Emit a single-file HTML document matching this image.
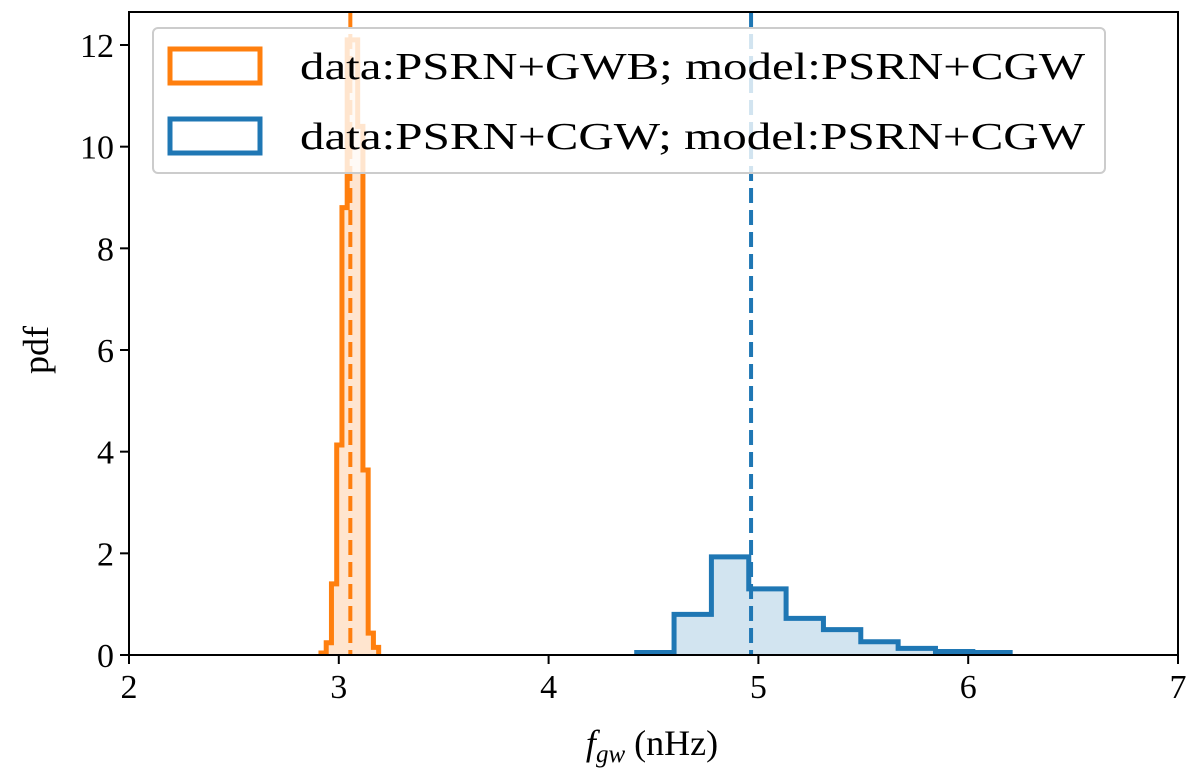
<!DOCTYPE html>
<html><head><meta charset="utf-8"><style>
body{margin:0;background:#fff}
svg{display:block;font-family:"Liberation Serif",serif}
</style></head><body>
<svg id="chart" width="1200" height="778" viewBox="0 0 1200 778" xmlns="http://www.w3.org/2000/svg">
<g id="plot"></g>
</svg>
<script>
const xTicks=[2,3,4,5,6,7];
const yTicks=[0,2,4,6,8,10,12];
const orangeStart=2.915, orangeWidth=0.0250;
const orangeHeights=[0.04,0.24,1.4,4.13,8.8,12.1,12.1,10.4,3.64,0.43,0.15];
const blueStart=4.42, blueWidth=0.178;
const blueHeights=[0.05,0.8,1.93,1.3,0.72,0.5,0.26,0.13,0.07,0.05];
const orangeMedian=3.055, blueMedian=4.965;
const legendLabels=["data:PSRN+GWB; model:PSRN+CGW","data:PSRN+CGW; model:PSRN+CGW"];

const L=129,R=1178,T=12,B=655;
const X=v=>L+(v-2)/(7-2)*(R-L);
const Y=v=>B-(v/12)*(B-45);
const NS="http://www.w3.org/2000/svg";
const g=document.getElementById('plot');
function mk(tag,attrs,parent){const e=document.createElementNS(NS,tag);for(const k in attrs)e.setAttribute(k,attrs[k]);(parent||g).appendChild(e);return e;}

function hist(start,w,h,color,fill,name){
  let d=`M${X(start)},${Y(0)}`;
  h.forEach((v,i)=>{d+=` L${X(start+i*w)},${Y(v)} L${X(start+(i+1)*w)},${Y(v)}`;});
  d+=` L${X(start+h.length*w)},${Y(0)}`;
  const f=mk('path',{d:d+' Z',fill:fill,stroke:'none'});
  
  
  const s=mk('path',{d:d,fill:'none',stroke:color,'stroke-width':5,'stroke-linejoin':'miter'});
  
  
}
hist(orangeStart,orangeWidth,orangeHeights,'#ff7f0e','rgba(255,127,14,0.2)','orange-histogram');
hist(blueStart,blueWidth,blueHeights,'#1f77b4','rgba(31,119,180,0.2)','blue-histogram');

[[orangeMedian,'#ff7f0e','orange-median-line'],[blueMedian,'#1f77b4','blue-median-line']].forEach(([v,c,n])=>{
  const l=mk('line',{x1:X(v),x2:X(v),y1:T,y2:B,stroke:c,'stroke-width':4,'stroke-dasharray':'15,7'});
  
  
});

// legend
const lg=mk('g',{});


mk('rect',{x:153,y:28,width:952,height:145,rx:5,fill:'rgba(255,255,255,0.8)',stroke:'#ccc','stroke-width':2},lg);
const lc=['#ff7f0e','#1f77b4'],lf=['rgba(255,255,255,0.9)','rgba(255,255,255,0.9)'];
legendLabels.forEach((t,i)=>{
  const cy=66+i*70;
  const p=mk('rect',{x:170,y:cy-17,width:90,height:34,fill:lf[i],stroke:lc[i],'stroke-width':5},lg);
  
  
  const tx=mk('text',{x:300,y:cy+13,'font-size':38,fill:'#000',textLength:785,lengthAdjust:'spacingAndGlyphs'},lg);
  tx.textContent=t;
  
  
});

// axes frame
const fr=mk('rect',{x:L,y:T,width:R-L,height:B-T,fill:'none',stroke:'#000','stroke-width':2});


xTicks.forEach(v=>{
  mk('line',{x1:X(v),x2:X(v),y1:B,y2:B+9,stroke:'#000','stroke-width':2});
  const t=mk('text',{x:X(v),y:B+43,'font-size':34,'text-anchor':'middle'});
  t.textContent=v;
  
  
});
yTicks.forEach(v=>{
  mk('line',{x1:L-9,x2:L,y1:Y(v),y2:Y(v),stroke:'#000','stroke-width':2});
  const t=mk('text',{x:L-15,y:Y(v)+12,'font-size':34,'text-anchor':'end'});
  t.textContent=v;
  
  
});
const yl=mk('text',{x:48,y:350,'font-size':36,'text-anchor':'middle',transform:'rotate(-90 48 350)'});
yl.textContent='pdf';


const xl=mk('text',{x:652,y:755,'font-size':36,'text-anchor':'middle'});
xl.innerHTML='<tspan font-style="italic">f</tspan><tspan font-style="italic" font-size="25" dy="7">gw</tspan><tspan dy="-7"> (nHz)</tspan>';


</script>
</body></html>
